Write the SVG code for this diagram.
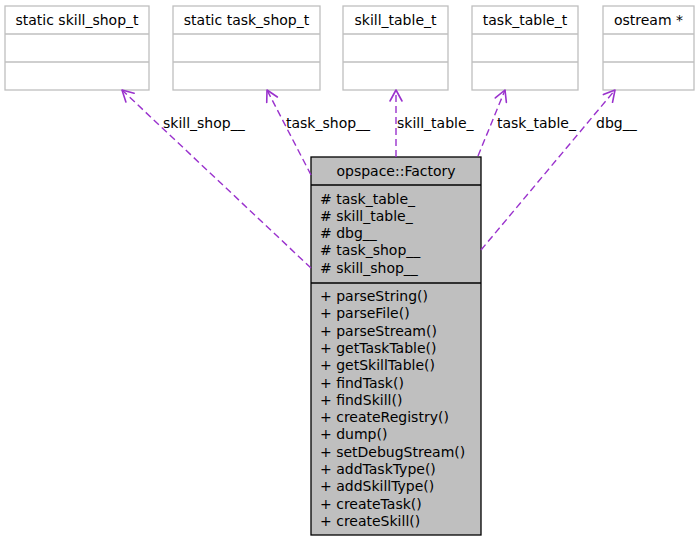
<svg xmlns="http://www.w3.org/2000/svg" width="698" height="541" viewBox="0 0 698 541">
<style>
text { font-family: "DejaVu Sans", "Liberation Sans", sans-serif; font-size: 14px; fill: #000; }
.mid { text-anchor: middle; }
.box { fill: #ffffff; stroke: #bfbfbf; stroke-width: 1.3; }
.main { fill: #bfbfbf; stroke: #000000; stroke-width: 1.3; }
.edge { fill: none; stroke: #9a32cd; stroke-width: 1.4; stroke-dasharray: 7,4; marker-end: url(#vee); }
</style>
<defs>
<marker id="vee" markerUnits="userSpaceOnUse" markerWidth="16" markerHeight="16" viewBox="-2 -2 16 16" refX="11" refY="6" orient="auto">
<path d="M0,0 L11,6 L0,12" fill="none" stroke="#9a32cd" stroke-width="1.6" stroke-linejoin="round" stroke-linecap="round"/>
</marker>
</defs>
<rect width="698" height="541" fill="#ffffff"/>

<g id="node-skill_shop_t">
<rect class="box" x="5" y="6" width="144" height="84"/>
<line class="box" x1="5" y1="34" x2="149" y2="34"/>
<line class="box" x1="5" y1="62" x2="149" y2="62"/>
<text class="mid" x="77" y="25">static skill_shop_t</text>
</g>

<g id="node-task_shop_t">
<rect class="box" x="173" y="6" width="147" height="84"/>
<line class="box" x1="173" y1="34" x2="320" y2="34"/>
<line class="box" x1="173" y1="62" x2="320" y2="62"/>
<text class="mid" x="246.5" y="25">static task_shop_t</text>
</g>

<g id="node-skill_table_t">
<rect class="box" x="343" y="6" width="105" height="84"/>
<line class="box" x1="343" y1="34" x2="448" y2="34"/>
<line class="box" x1="343" y1="62" x2="448" y2="62"/>
<text class="mid" x="395.5" y="25">skill_table_t</text>
</g>

<g id="node-task_table_t">
<rect class="box" x="472" y="6" width="106" height="84"/>
<line class="box" x1="472" y1="34" x2="578" y2="34"/>
<line class="box" x1="472" y1="62" x2="578" y2="62"/>
<text class="mid" x="525" y="25">task_table_t</text>
</g>

<g id="node-ostream">
<rect class="box" x="603" y="6" width="91" height="84"/>
<line class="box" x1="603" y1="34" x2="694" y2="34"/>
<line class="box" x1="603" y1="62" x2="694" y2="62"/>
<text class="mid" x="648.5" y="25">ostream *</text>
</g>

<g id="node-factory">
<rect class="main" x="311" y="157" width="170" height="378"/>
<line class="main" x1="311" y1="185" x2="481" y2="185"/>
<line class="main" x1="311" y1="283" x2="481" y2="283"/>
<text class="mid" x="396" y="176">opspace::Factory</text>
<text x="320" y="203.5"># task_table_</text>
<text x="320" y="220.8"># skill_table_</text>
<text x="320" y="238.1"># dbg__</text>
<text x="320" y="255.4"># task_shop__</text>
<text x="320" y="272.7"># skill_shop__</text>
<text x="320" y="301"><tspan>+ parseString()</tspan></text>
<text x="320" y="318.3">+ parseFile()</text>
<text x="320" y="335.6">+ parseStream()</text>
<text x="320" y="352.9">+ getTaskTable()</text>
<text x="320" y="370.2">+ getSkillTable()</text>
<text x="320" y="387.5">+ findTask()</text>
<text x="320" y="404.8">+ findSkill()</text>
<text x="320" y="422.1">+ createRegistry()</text>
<text x="320" y="439.4">+ dump()</text>
<text x="320" y="456.7">+ setDebugStream()</text>
<text x="320" y="474">+ addTaskType()</text>
<text x="320" y="491.3">+ addSkillType()</text>
<text x="320" y="508.6">+ createTask()</text>
<text x="320" y="525.9">+ createSkill()</text>
</g>

<g id="connectors">
<path class="edge" d="M311,268 L122,90"/>
<text x="163" y="128">skill_shop__</text>
<path class="edge" d="M311,175 L267,90"/>
<text x="286" y="128">task_shop__</text>
<path class="edge" d="M396,157 L396,90"/>
<text x="397" y="128">skill_table_</text>
<path class="edge" d="M478,156 L505,90"/>
<text x="497" y="128">task_table_</text>
<path class="edge" d="M481,250 L615,90"/>
<text x="596" y="128">dbg__</text>
</g>
</svg>
